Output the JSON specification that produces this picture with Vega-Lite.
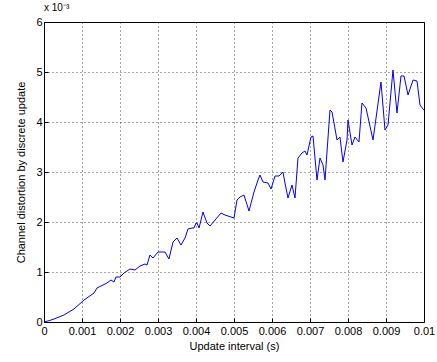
{
  "$schema": "https://vega.github.io/schema/vega-lite/v6.json",
  "autosize": {"type": "none"},
  "width": 380,
  "height": 300,
  "padding": {"left": 44, "top": 22, "right": 13, "bottom": 40},
  "background": "white",
  "title": {"text": "x 10⁻³", "anchor": "start", "frame": "group", "fontSize": 10, "fontWeight": "normal", "font": "Liberation Sans", "color": "black", "offset": 3},
  "config": {
    "view": {"stroke": "black", "strokeWidth": 1},
    "axis": {
      "labelFont": "Liberation Sans", "titleFont": "Liberation Sans",
      "labelFontSize": 11, "titleFontSize": 11, "titleFontWeight": "normal",
      "labelColor": "black", "titleColor": "black",
      "domainColor": "black", "tickColor": "black",
      "tickSize": -4, "labelPadding": 7,
      "gridColor": "black", "gridOpacity": 0.7, "gridDash": [1, 3], "gridWidth": 1
    }
  },
  "data": {"values": [
    {"x": 0, "y": 0}, {"x": 0.000132, "y": 0.026}, {"x": 0.000263, "y": 0.06}, {"x": 0.000526, "y": 0.14},
    {"x": 0.000789, "y": 0.26}, {"x": 0.001053, "y": 0.44}, {"x": 0.001316, "y": 0.58}, {"x": 0.001395, "y": 0.68},
    {"x": 0.001658, "y": 0.78}, {"x": 0.001763, "y": 0.84}, {"x": 0.001842, "y": 0.80}, {"x": 0.001895, "y": 0.90},
    {"x": 0.002, "y": 0.90}, {"x": 0.002105, "y": 0.98}, {"x": 0.002263, "y": 1.06}, {"x": 0.002395, "y": 1.04},
    {"x": 0.002526, "y": 1.12}, {"x": 0.002658, "y": 1.16}, {"x": 0.002711, "y": 1.14}, {"x": 0.002789, "y": 1.34},
    {"x": 0.002868, "y": 1.28}, {"x": 0.003, "y": 1.40}, {"x": 0.003184, "y": 1.40}, {"x": 0.003289, "y": 1.26},
    {"x": 0.003395, "y": 1.60}, {"x": 0.0035, "y": 1.68}, {"x": 0.003605, "y": 1.54}, {"x": 0.003711, "y": 1.68},
    {"x": 0.003789, "y": 1.86}, {"x": 0.003895, "y": 1.88}, {"x": 0.003947, "y": 1.88}, {"x": 0.004, "y": 1.98},
    {"x": 0.004026, "y": 1.98}, {"x": 0.00408, "y": 1.88}, {"x": 0.004184, "y": 2.20}, {"x": 0.004289, "y": 1.98},
    {"x": 0.004368, "y": 1.92}, {"x": 0.004658, "y": 2.18}, {"x": 0.004763, "y": 2.14}, {"x": 0.005, "y": 2.08},
    {"x": 0.005079, "y": 2.44}, {"x": 0.005158, "y": 2.50}, {"x": 0.005263, "y": 2.54}, {"x": 0.005395, "y": 2.22},
    {"x": 0.005526, "y": 2.60}, {"x": 0.005632, "y": 2.84}, {"x": 0.005684, "y": 2.94}, {"x": 0.005763, "y": 2.80},
    {"x": 0.005895, "y": 2.78}, {"x": 0.005974, "y": 2.66}, {"x": 0.006079, "y": 2.92}, {"x": 0.006184, "y": 2.92},
    {"x": 0.006289, "y": 3.00}, {"x": 0.006342, "y": 2.78}, {"x": 0.006421, "y": 2.48}, {"x": 0.006526, "y": 2.74},
    {"x": 0.006605, "y": 2.48}, {"x": 0.006684, "y": 3.28}, {"x": 0.006789, "y": 3.38}, {"x": 0.006868, "y": 3.42},
    {"x": 0.006921, "y": 3.34}, {"x": 0.007026, "y": 3.70}, {"x": 0.007079, "y": 3.72}, {"x": 0.007184, "y": 2.84},
    {"x": 0.007263, "y": 3.28}, {"x": 0.007342, "y": 3.14}, {"x": 0.007395, "y": 2.84}, {"x": 0.007526, "y": 4.24},
    {"x": 0.007579, "y": 4.20}, {"x": 0.007711, "y": 3.64}, {"x": 0.007789, "y": 3.70}, {"x": 0.007868, "y": 3.20},
    {"x": 0.007974, "y": 3.64}, {"x": 0.008, "y": 4.04}, {"x": 0.008105, "y": 3.54}, {"x": 0.008184, "y": 3.70},
    {"x": 0.008289, "y": 3.60}, {"x": 0.008368, "y": 4.38}, {"x": 0.008474, "y": 4.28}, {"x": 0.008658, "y": 3.64},
    {"x": 0.008868, "y": 4.80}, {"x": 0.008974, "y": 3.84}, {"x": 0.009053, "y": 3.94}, {"x": 0.009184, "y": 5.04},
    {"x": 0.009289, "y": 4.18}, {"x": 0.009395, "y": 4.92}, {"x": 0.009474, "y": 4.92}, {"x": 0.009579, "y": 4.54},
    {"x": 0.009711, "y": 4.84}, {"x": 0.009816, "y": 4.82}, {"x": 0.009895, "y": 4.34}, {"x": 0.009974, "y": 4.26},
    {"x": 0.01, "y": 4.24}
  ]},
  "mark": {"type": "line", "color": "#0000ff", "strokeWidth": 1, "clip": true},
  "encoding": {
    "x": {"field": "x", "type": "quantitative", "scale": {"domain": [0, 0.01], "nice": false, "zero": false},
      "axis": {"title": "Update interval (s)", "values": [0, 0.001, 0.002, 0.003, 0.004, 0.005, 0.006, 0.007, 0.008, 0.009, 0.01], "format": "~g", "labelFlush": false, "titlePadding": 4}},
    "y": {"field": "y", "type": "quantitative", "scale": {"domain": [0, 6], "nice": false},
      "axis": {"title": "Channel distortion by discrete update", "values": [0, 1, 2, 3, 4, 5, 6], "format": "d", "labelFlush": false, "labelPadding": 6, "titlePadding": 9}}
  }
}
